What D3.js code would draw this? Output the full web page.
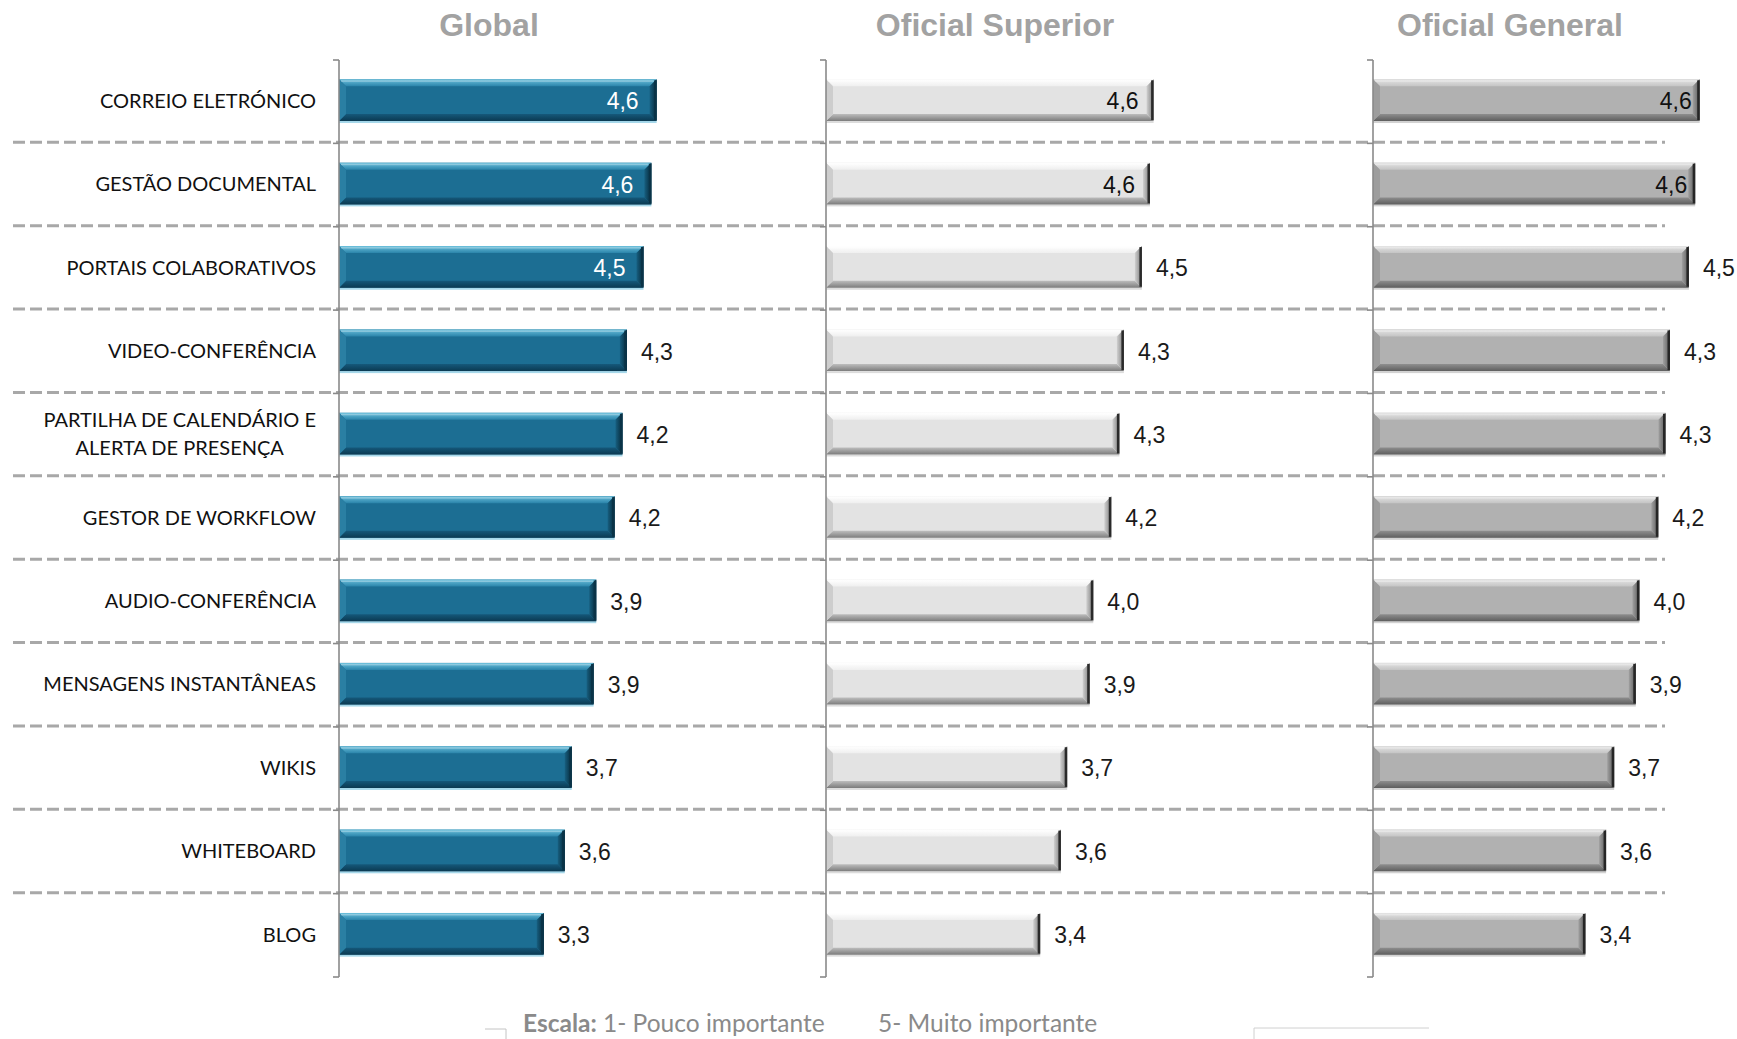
<!DOCTYPE html>
<html>
<head>
<meta charset="utf-8">
<script src="https://cdn.jsdelivr.net/npm/d3@7"></script>
<style>
  body { margin: 0; background: #fff; }
  svg { display: block; }
</style>
</head>
<body>
<div id="chart"></div>
<script>
// data (scale 1-5)
const categories = [
    "CORREIO ELETRÓNICO",
    "GESTÃO DOCUMENTAL",
    "PORTAIS COLABORATIVOS",
    "VIDEO-CONFERÊNCIA",
    "PARTILHA DE CALENDÁRIO E ALERTA DE PRESENÇA",
    "GESTOR DE WORKFLOW",
    "AUDIO-CONFERÊNCIA",
    "MENSAGENS INSTANTÂNEAS",
    "WIKIS",
    "WHITEBOARD",
    "BLOG"
];
const globalValues   = [4.63, 4.57, 4.48, 4.29, 4.24, 4.15, 3.94, 3.91, 3.66, 3.58, 3.34];
const superiorValues = [4.64, 4.60, 4.51, 4.31, 4.26, 4.17, 3.97, 3.93, 3.68, 3.61, 3.38];
const generalValues  = [4.63, 4.58, 4.51, 4.30, 4.25, 4.17, 3.96, 3.92, 3.68, 3.59, 3.36];
const panelTitles = ["Global", "Oficial Superior", "Oficial General"];
const scaleDomain = [1, 5];
const noteBold = "Escala:";
const noteLow = " 1- Pouco importante";
const noteHigh = "5- Muito importante";

const width = 1737, height = 1039;
const plotTop = 60, plotBottom = 977;

// panel layout + look
const panels = [
    { id: "glob", title: panelTitles[0], values: globalValues, axisX: 339, unit: 87.5, titleX: 489,
      main: "#1c6e93", top: ["#6cc0dc", "#2a84aa"], bottom: ["#15587a", "#0b3a52"], left: "#2a7fa3",
      right: ["#175f80", "#062838"], edge: "#0a3347",
      glow: "#a6d8ea", inside: 4.4, insideOff: 18, insideColor: "#ffffff" },
    { id: "sup", title: panelTitles[1], values: superiorValues, axisX: 826, unit: 90, titleX: 995,
      main: "#e3e3e3", top: ["#ffffff", "#efefef"], bottom: ["#bdbdbd", "#7c7c7c"], left: "#cdcdcd",
      right: ["#d0d0d0", "#7a7a7a"], edge: "#2a2a2a",
      glow: "#dcdcdc", inside: 4.55, insideOff: 15, insideColor: "#111111" },
    { id: "gen", title: panelTitles[2], values: generalValues, axisX: 1373, unit: 90, titleX: 1510,
      main: "#b1b1b1", top: ["#e4e4e4", "#c4c4c4"], bottom: ["#8e8e8e", "#5e5e5e"], left: "#9d9d9d",
      right: ["#a0a0a0", "#5a5a5a"], edge: "#262626",
      glow: "#d2d2d2", inside: 4.55, insideOff: 8, insideColor: "#111111" }
];

const locale = d3.formatLocale({ decimal: ",", thousands: ".", grouping: [3], currency: ["", "€"] });
const fmt = locale.format(".1f");

const svg = d3.select("#chart").append("svg")
    .attr("width", width)
    .attr("height", height);

const defs = svg.append("defs");
function grad(id, c0, c1, horizontal) {
    const lg = defs.append("linearGradient")
        .attr("id", id)
        .attr("x1", 0).attr("y1", 0)
        .attr("x2", horizontal ? 1 : 0).attr("y2", horizontal ? 0 : 1);
    lg.append("stop").attr("offset", "0%").attr("stop-color", c0);
    lg.append("stop").attr("offset", "100%").attr("stop-color", c1);
}
panels.forEach(function (p) {
    grad(p.id + "-top", p.top[0], p.top[1], false);
    grad(p.id + "-bot", p.bottom[0], p.bottom[1], false);
    grad(p.id + "-right", p.right[0], p.right[1], true);
});

const y = d3.scaleBand()
    .domain(categories)
    .range([plotTop, plotBottom])
    .paddingInner(0.5)
    .paddingOuter(0.25);

const step = y.step();
const boundaries = d3.range(categories.length + 1).map(i => plotTop + i * step);

// dashed separators between rows
svg.append("g")
    .selectAll("line")
    .data(boundaries.slice(1, -1))
    .join("line")
    .attr("x1", 13)
    .attr("x2", 1665)
    .attr("y1", d => d - 1)
    .attr("y2", d => d - 1)
    .attr("stroke", "#a8a8a8")
    .attr("stroke-width", 3)
    .attr("stroke-dasharray", "12,5");

// category labels (wrapped like excel does)
const labelG = svg.append("g")
    .attr("font-family", "Lato, 'Open Sans', sans-serif")
    .attr("font-size", 20)
    .attr("fill", "#111");

const labelRight = 316, maxLabel = 290;
categories.forEach(function (c) {
    const t = labelG.append("text").attr("text-anchor", "middle");
    const words = c.split(" ");
    let lines = [], cur = [];
    const probe = labelG.append("text");
    words.forEach(function (w) {
        const test = cur.concat([w]).join(" ");
        probe.text(test);
        if (probe.node().getComputedTextLength() > maxLabel && cur.length) {
            lines.push(cur.join(" "));
            cur = [w];
        } else {
            cur.push(w);
        }
    });
    lines.push(cur.join(" "));
    let wMax = 0;
    lines.forEach(function (l) {
        probe.text(l);
        wMax = Math.max(wMax, probe.node().getComputedTextLength());
    });
    probe.remove();
    const cx = labelRight - wMax / 2;
    const cy = y(c) + y.bandwidth() / 2 - 1;
    const lh = 28;
    lines.forEach(function (l, i) {
        t.append("tspan")
            .attr("x", cx)
            .attr("y", cy + (i - (lines.length - 1) / 2) * lh)
            .attr("dy", "0.36em")
            .text(l);
    });
});

panels.forEach(function (p) {
    const x = d3.scaleLinear()
        .domain(scaleDomain)
        .range([p.axisX, p.axisX + p.unit * (scaleDomain[1] - scaleDomain[0])]);
    const g = svg.append("g").attr("transform", "translate(0,-1.5)");
    const b = 7, h = y.bandwidth();

    const rows = categories.map((c, i) => ({ c: c, v: p.values[i] }));
    const bar = g.selectAll("g.bar")
        .data(rows)
        .join("g")
        .attr("class", "bar");

    // faint reflection under the bar
    bar.append("rect")
        .attr("x", x(scaleDomain[0]))
        .attr("y", d => y(d.c) + h)
        .attr("width", d => x(d.v) - x(scaleDomain[0]))
        .attr("height", 2)
        .attr("fill", p.glow);

    bar.append("rect")
        .attr("x", x(scaleDomain[0]))
        .attr("y", d => y(d.c))
        .attr("width", d => x(d.v) - x(scaleDomain[0]))
        .attr("height", h)
        .attr("fill", p.main);

    const poly = function (pts) { return "M" + pts.map(q => q.join(",")).join("L") + "Z"; };
    // bevels
    bar.append("path")
        .attr("fill", "url(#" + p.id + "-top)")
        .attr("d", function (d) {
            const x0 = x(scaleDomain[0]), x1 = x(d.v), y0 = y(d.c);
            return poly([[x0, y0], [x1, y0], [x1 - b, y0 + b], [x0 + b, y0 + b]]);
        });
    bar.append("path")
        .attr("fill", "url(#" + p.id + "-bot)")
        .attr("d", function (d) {
            const x0 = x(scaleDomain[0]), x1 = x(d.v), y1 = y(d.c) + h;
            return poly([[x0, y1], [x1, y1], [x1 - b, y1 - b], [x0 + b, y1 - b]]);
        });
    bar.append("path")
        .attr("fill", p.left)
        .attr("d", function (d) {
            const x0 = x(scaleDomain[0]), y0 = y(d.c);
            return poly([[x0, y0], [x0 + b, y0 + b], [x0 + b, y0 + h - b], [x0, y0 + h]]);
        });
    bar.append("path")
        .attr("fill", "url(#" + p.id + "-right)")
        .attr("d", function (d) {
            const x1 = x(d.v), y0 = y(d.c);
            return poly([[x1, y0], [x1 - b, y0 + b], [x1 - b, y0 + h - b], [x1, y0 + h]]);
        });
    // dark end edge
    bar.append("rect")
        .attr("x", d => x(d.v) - 2.5)
        .attr("y", d => y(d.c) + 1)
        .attr("width", 2.5)
        .attr("height", h - 2)
        .attr("fill", p.edge);
    // thin highlight on top edge
    bar.append("rect")
        .attr("x", x(scaleDomain[0]) + 2)
        .attr("y", d => y(d.c) + 1)
        .attr("width", d => x(d.v) - x(scaleDomain[0]) - 5)
        .attr("height", 1.5)
        .attr("fill", "#ffffff")
        .attr("opacity", 0.3);

    // value labels
    g.selectAll("text.val")
        .data(rows)
        .join("text")
        .attr("class", "val")
        .attr("font-family", "'Liberation Sans', Arial, sans-serif")
        .attr("font-size", 23)
        .attr("x", d => d.v >= p.inside ? x(d.v) - p.insideOff : x(d.v) + 14)
        .attr("y", d => y(d.c) + h / 2 + 1)
        .attr("dy", "0.36em")
        .attr("text-anchor", d => d.v >= p.inside ? "end" : "start")
        .attr("fill", d => d.v >= p.inside ? p.insideColor : "#1a1a1a")
        .text(d => fmt(d.v));

    // category axis with ticks between categories
    svg.append("line")
        .attr("x1", p.axisX).attr("x2", p.axisX)
        .attr("y1", plotTop).attr("y2", plotBottom)
        .attr("stroke", "#8a8a8a")
        .attr("stroke-width", 1.6);
    svg.append("g").selectAll("line")
        .data(boundaries)
        .join("line")
        .attr("x1", p.axisX - 6).attr("x2", p.axisX)
        .attr("y1", d => d).attr("y2", d => d)
        .attr("stroke", "#8a8a8a")
        .attr("stroke-width", 1.6);

    svg.append("text")
        .attr("x", p.titleX)
        .attr("y", 36)
        .attr("text-anchor", "middle")
        .attr("font-family", "'Liberation Sans', Arial, sans-serif")
        .attr("font-weight", "bold")
        .attr("font-size", 32)
        .attr("fill", "#a2a2a2")
        .text(p.title);
});

// scale note at the bottom
const note = svg.append("g")
    .attr("font-family", "Lato, 'Open Sans', sans-serif")
    .attr("font-size", 24.5)
    .attr("fill", "#8a8a8a");
const n1 = note.append("text").attr("x", 523).attr("y", 1032);
n1.append("tspan").attr("font-weight", "bold").text(noteBold);
n1.append("tspan").text(noteLow);
note.append("text").attr("x", 878).attr("y", 1032).text(noteHigh);

// cropped frame bits at the bottom edge
svg.append("path")
    .attr("d", "M485,1029H506V1039")
    .attr("fill", "none")
    .attr("stroke", "#c4c4c4");
svg.append("path")
    .attr("d", "M1254,1039V1028H1429")
    .attr("fill", "none")
    .attr("stroke", "#d0d0d0");
</script>
</body>
</html>
